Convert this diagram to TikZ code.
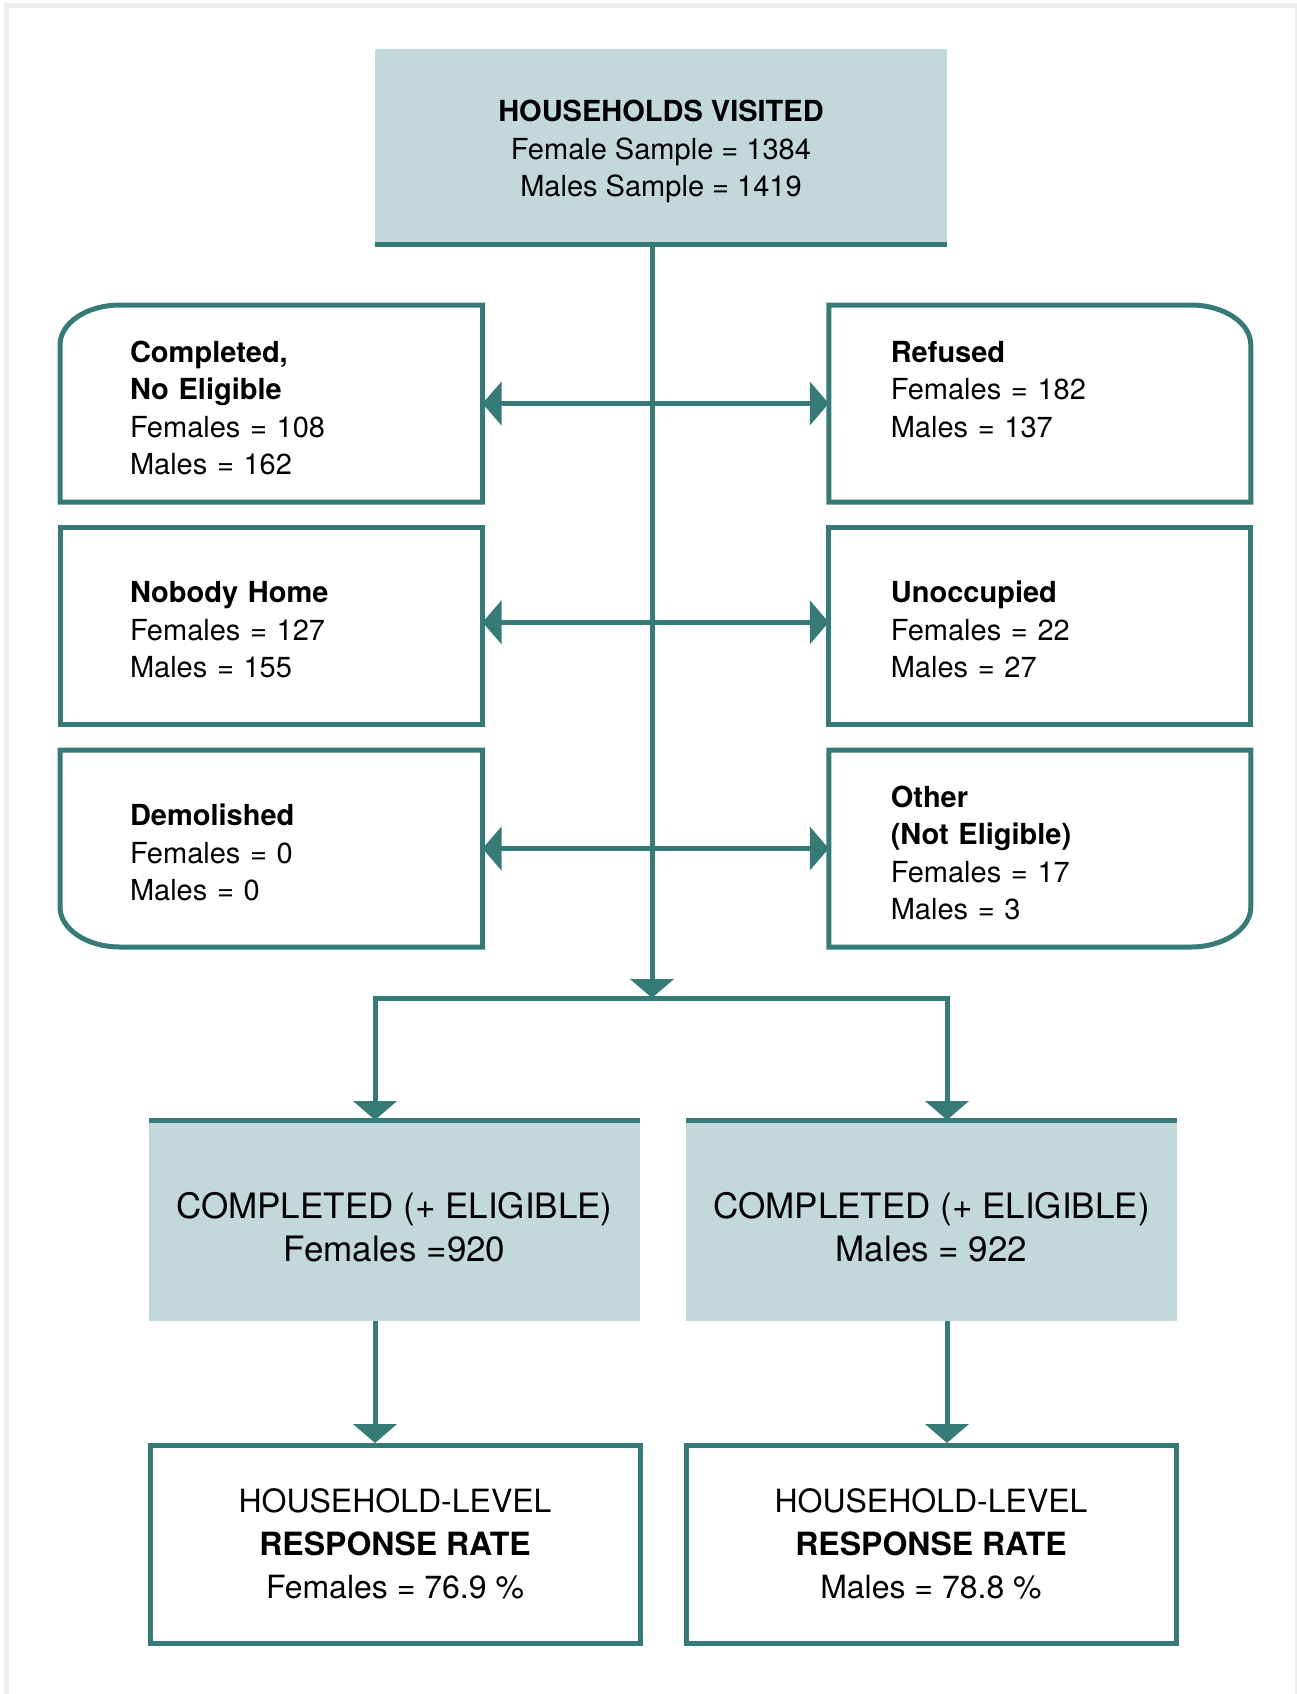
\documentclass[tikz,border=0pt]{standalone}
\usepackage{fontspec}
\setmainfont{TeX Gyre Heros}
\usetikzlibrary{arrows.meta}

\definecolor{tealline}{HTML}{377B79}
\definecolor{tealfill}{HTML}{C2D8D9}
\definecolor{framegrey}{HTML}{ECEDED}

\newcommand\smalltxt{\fontsize{14.5}{18.75}\selectfont}
\newcommand\bigtxt{\fontsize{17.5}{21.5}\selectfont}
\newcommand\ratetxt{\fontsize{16}{21.5}\selectfont}
\newcommand\lift[1]{\rule{0pt}{#1}}

\tikzset{
  line/.style={draw=tealline, line width=2.5pt},
  flow/.style={line, -{Triangle[length=9.5pt,width=21.5pt]}},
  flows/.style={line, {Triangle[length=9.5pt,width=21.5pt]}-{Triangle[length=9.5pt,width=21.5pt]}},
  lower/.style={execute at begin node={\lift{#1}}},
  lbox/.style={font=\smalltxt, lower=15pt, align=left, text width=141.25pt, inner xsep=35pt, inner ysep=0pt, minimum height=98.5pt, outer sep=0pt},
  rbox/.style={font=\smalltxt, lower=15pt, align=left, text width=149pt, inner xsep=31pt, inner ysep=0pt, minimum height=98.5pt, outer sep=0pt},
  topbox/.style={fill=tealfill, font=\smalltxt, align=center, minimum width=286pt, minimum height=97.5pt, inner sep=0pt, outer sep=0pt},
  donebox/.style={fill=tealfill, font=\bigtxt, align=center, minimum width=245.5pt, minimum height=100.5pt, inner sep=0pt, outer sep=0pt},
  ratebox/.style={line, font=\ratetxt, align=center, minimum width=245pt, minimum height=98.75pt, inner sep=0pt}
}

\begin{document}
\begin{tikzpicture}[x=0.5pt, y=0.5pt]
\useasboundingbox (0,0) rectangle (1297,-1694);
\draw[framegrey, line width=2.5pt] (6.5,-5.5) rectangle (1297.5,-1700);

\node[topbox] (visit) at (661,-146.5) {\lift{16pt}\textbf{HOUSEHOLDS VISITED}\\Female Sample = 1384\\Males Sample = 1419};
\draw[line] (visit.south west) -- (visit.south east);

\node[lbox] (cne) at (271.25,-403.5) {\textbf{Completed,}\\\textbf{No Eligible}\\Females = 108\\Males = 162};
\node[rbox] (ref) at (1039.8,-403.5) {\textbf{Refused}\\Females = 182\\Males = 137\\\mbox{}};
\node[lbox] (nob) at (271.25,-625.5) {\textbf{Nobody Home}\\Females = 127\\Males = 155};
\node[rbox] (uno) at (1039.8,-625.5) {\textbf{Unoccupied}\\Females = 22\\Males = 27};
\node[lbox] (dem) at (271.25,-848.5) {\textbf{Demolished}\\Females = 0\\Males = 0};
\node[rbox] (oth) at (1039.8,-848.5) {\textbf{Other}\\\textbf{(Not Eligible)}\\Females = 17\\Males = 3};

\draw[line] (cne.south west) -- ([yshift=-20pt]cne.north west) arc[start angle=180, end angle=90, x radius=30pt, y radius=20pt] -- (cne.north east) -- (cne.south east) -- cycle;
\draw[line] (ref.south east) -- ([yshift=-20pt]ref.north east) arc[start angle=0, end angle=90, x radius=30pt, y radius=20pt] -- (ref.north west) -- (ref.south west) -- cycle;
\draw[line] (nob.south west) rectangle (nob.north east);
\draw[line] (uno.south west) rectangle (uno.north east);
\draw[line] (dem.north west) -- ([yshift=20pt]dem.south west) arc[start angle=180, end angle=270, x radius=30pt, y radius=20pt] -- (dem.south east) -- (dem.north east) -- cycle;
\draw[line] (oth.north east) -- ([yshift=20pt]oth.south east) arc[start angle=0, end angle=-90, x radius=30pt, y radius=20pt] -- (oth.south west) -- (oth.north west) -- cycle;

\coordinate (split) at (652,-998);
\coordinate (lcol) at (375,-998);
\coordinate (rcol) at (947,-998);

\draw[flow] (visit.south -| split) -- (split);
\draw[flow] (cne.east -| split) -- (cne.east);
\draw[flow] (ref.west -| split) -- (ref.west);
\draw[flow] ([yshift=1.6pt]nob.east -| split) -- ([yshift=1.6pt]nob.east);
\draw[flow] ([yshift=1.6pt]uno.west -| split) -- ([yshift=1.6pt]uno.west);
\draw[flow] (dem.east -| split) -- (dem.east);
\draw[flow] (oth.west -| split) -- (oth.west);

\node[donebox] (cfem) at (394.5,-1220.5) {\lift{19.5pt}COMPLETED (+ ELIGIBLE)\\Females =920};
\node[donebox] (cmal) at (931.5,-1220.5) {\lift{19.5pt}COMPLETED (+ ELIGIBLE)\\Males = 922};
\draw[line] (cfem.north west) -- (cfem.north east);
\draw[line] (cmal.north west) -- (cmal.north east);

\draw[flows] (lcol |- cfem.north) -- (lcol) -- (rcol) -- (rcol |- cmal.north);

\node[ratebox] (rfem) at (395,-1544.25) {HOUSEHOLD-LEVEL\\\textbf{RESPONSE RATE}\\Females = 76.9 \%};
\node[ratebox] (rmal) at (931,-1544.25) {HOUSEHOLD-LEVEL\\\textbf{RESPONSE RATE}\\Males = 78.8 \%};

\draw[flow] (lcol |- cfem.south) -- (lcol |- rfem.north);
\draw[flow] (rcol |- cmal.south) -- (rcol |- rmal.north);
\end{tikzpicture}
\end{document}
